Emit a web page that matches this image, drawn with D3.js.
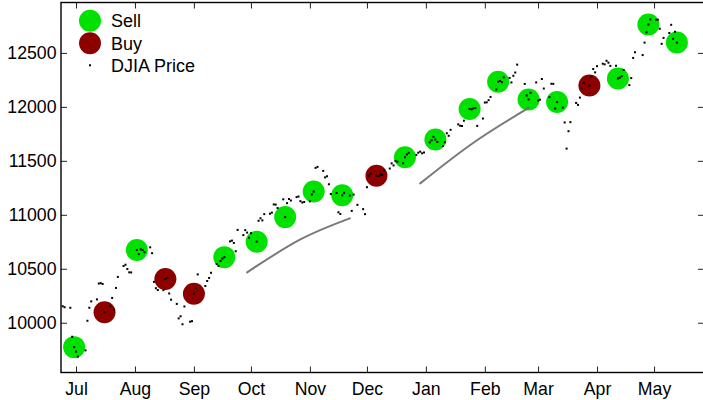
<!DOCTYPE html>
<html>
<head>
<meta charset="utf-8">
<script src="https://cdn.jsdelivr.net/npm/d3@7"></script>
<style>
  body { margin: 0; background: #fff; }
  svg { display: block; font-family: "Liberation Sans", Arial, sans-serif; }
</style>
</head>
<body>
<div id="chart"></div>
<script>
// DJIA daily closes, Jun 2010 - May 2011
const priceDates = [
  "2010-06-24","2010-06-25","2010-06-28","2010-06-29","2010-06-30","2010-07-01","2010-07-02","2010-07-06","2010-07-07","2010-07-08",
  "2010-07-09","2010-07-12","2010-07-13","2010-07-14","2010-07-15","2010-07-16","2010-07-19","2010-07-20","2010-07-21","2010-07-22",
  "2010-07-23","2010-07-26","2010-07-27","2010-07-28","2010-07-29","2010-07-30","2010-08-02","2010-08-03","2010-08-04","2010-08-05",
  "2010-08-06","2010-08-09","2010-08-10","2010-08-11","2010-08-12","2010-08-13","2010-08-16","2010-08-17","2010-08-18","2010-08-19",
  "2010-08-20","2010-08-23","2010-08-24","2010-08-25","2010-08-26","2010-08-27","2010-08-30","2010-08-31","2010-09-01","2010-09-02",
  "2010-09-03","2010-09-07","2010-09-08","2010-09-09","2010-09-10","2010-09-13","2010-09-14","2010-09-15","2010-09-16","2010-09-17",
  "2010-09-20","2010-09-21","2010-09-22","2010-09-23","2010-09-24","2010-09-27","2010-09-28","2010-09-29","2010-09-30","2010-10-01",
  "2010-10-04","2010-10-05","2010-10-06","2010-10-07","2010-10-08","2010-10-11","2010-10-12","2010-10-13","2010-10-14","2010-10-15",
  "2010-10-18","2010-10-19","2010-10-20","2010-10-21","2010-10-22","2010-10-25","2010-10-26","2010-10-27","2010-10-28","2010-10-29",
  "2010-11-01","2010-11-02","2010-11-03","2010-11-04","2010-11-05","2010-11-08","2010-11-09","2010-11-10","2010-11-11","2010-11-12",
  "2010-11-15","2010-11-16","2010-11-17","2010-11-18","2010-11-19","2010-11-22","2010-11-23","2010-11-24","2010-11-26","2010-11-29",
  "2010-11-30","2010-12-01","2010-12-02","2010-12-03","2010-12-06","2010-12-07","2010-12-08","2010-12-09","2010-12-10","2010-12-13",
  "2010-12-14","2010-12-15","2010-12-16","2010-12-17","2010-12-20","2010-12-21","2010-12-22","2010-12-23","2010-12-27","2010-12-28",
  "2010-12-29","2010-12-30","2010-12-31","2011-01-03","2011-01-04","2011-01-05","2011-01-06","2011-01-07","2011-01-10","2011-01-11",
  "2011-01-12","2011-01-13","2011-01-14","2011-01-18","2011-01-19","2011-01-20","2011-01-21","2011-01-24","2011-01-25","2011-01-26",
  "2011-01-27","2011-01-28","2011-01-31","2011-02-01","2011-02-02","2011-02-03","2011-02-04","2011-02-07","2011-02-08","2011-02-09",
  "2011-02-10","2011-02-11","2011-02-14","2011-02-15","2011-02-16","2011-02-17","2011-02-18","2011-02-22","2011-02-23","2011-02-24",
  "2011-02-25","2011-02-28","2011-03-01","2011-03-02","2011-03-03","2011-03-04","2011-03-07","2011-03-08","2011-03-09","2011-03-10",
  "2011-03-11","2011-03-14","2011-03-15","2011-03-16","2011-03-17","2011-03-18","2011-03-21","2011-03-22","2011-03-23","2011-03-24",
  "2011-03-25","2011-03-28","2011-03-29","2011-03-30","2011-03-31","2011-04-01","2011-04-04","2011-04-05","2011-04-06","2011-04-07",
  "2011-04-08","2011-04-11","2011-04-12","2011-04-13","2011-04-14","2011-04-15","2011-04-18","2011-04-19","2011-04-20","2011-04-21",
  "2011-04-25","2011-04-26","2011-04-27","2011-04-28","2011-04-29","2011-05-02","2011-05-03","2011-05-04","2011-05-05","2011-05-06",
  "2011-05-09","2011-05-10","2011-05-11","2011-05-12","2011-05-13"
];
const priceCloses = [
  10152.80,10143.81,10138.52,9870.30,9774.02,9732.53,9686.48,9743.62,10018.28,10138.99,
  10198.03,10216.27,10363.02,10366.72,10359.31,10097.90,10154.43,10229.96,10120.53,10322.30,
  10424.62,10525.43,10537.69,10497.88,10467.16,10465.94,10674.38,10636.38,10680.43,10674.98,
  10653.56,10698.75,10644.25,10378.83,10319.95,10303.15,10302.01,10405.85,10415.54,10271.21,
  10213.62,10174.41,10040.45,10060.06,9985.81,10150.65,10009.73,10014.72,10269.47,10320.10,
  10447.93,10340.69,10387.01,10415.24,10462.77,10544.13,10526.49,10572.73,10594.83,10607.85,
  10753.62,10761.03,10739.31,10662.42,10860.26,10812.04,10858.14,10835.28,10788.05,10829.68,
  10751.27,10944.72,10967.65,10948.58,11006.48,11010.34,11020.40,11096.08,11094.57,11062.78,
  11143.69,10978.62,11107.97,11146.57,11132.56,11164.05,11169.46,11126.28,11113.95,11118.49,
  11124.62,11188.72,11215.13,11434.84,11444.08,11406.84,11346.75,11357.04,11283.10,11192.58,
  11201.97,11023.50,11007.88,11181.23,11203.55,11178.58,11036.37,11187.28,11092.00,11052.49,
  11006.02,11255.78,11362.41,11382.09,11362.19,11359.16,11372.48,11370.06,11410.32,11428.56,
  11476.54,11457.47,11499.25,11491.91,11478.13,11533.16,11559.49,11573.49,11555.03,11575.54,
  11585.38,11569.71,11577.51,11670.75,11691.18,11722.89,11697.31,11674.76,11637.45,11671.88,
  11755.44,11731.90,11787.38,11837.93,11825.29,11822.80,11871.84,11980.52,11977.19,11985.44,
  11989.83,11823.70,11891.93,12040.16,12041.97,12062.26,12092.15,12161.63,12233.15,12239.89,
  12229.29,12273.26,12268.19,12226.64,12288.17,12318.14,12391.25,12212.79,12105.78,12068.50,
  12130.45,12226.34,12058.02,12066.80,12258.20,12169.88,12090.03,12214.38,12213.09,11984.61,
  12044.40,11993.16,11855.42,11613.30,11774.59,11858.52,12036.53,12018.63,12086.02,12170.56,
  12220.59,12197.88,12279.01,12350.61,12319.73,12376.72,12400.03,12393.90,12426.75,12409.49,
  12380.05,12381.11,12263.58,12270.99,12285.15,12341.83,12201.59,12266.75,12453.54,12505.99,
  12479.88,12595.37,12690.96,12763.31,12810.54,12807.36,12807.51,12723.58,12584.17,12638.74,
  12684.68,12760.36,12630.03,12695.92,12595.75
];

// trade signals (dates on the price series)
const sellDates = ["2010-06-30","2010-08-02","2010-09-17","2010-10-04","2010-10-19","2010-11-03","2010-11-18",
  "2010-12-21","2011-01-06","2011-01-24","2011-02-08","2011-02-24","2011-03-11","2011-04-12","2011-04-28","2011-05-13"];
const buyDates = ["2010-07-16","2010-08-17","2010-09-01","2010-12-06","2011-03-28"];

// gray trend strokes: start, middle, end  [date, value]
const trendA = [["2010-09-29", 10467], ["2010-10-27", 10772], ["2010-11-22", 10967]];
const trendB = [["2010-12-29", 11291], ["2011-01-26", 11668], ["2011-02-24", 11991]];

const monthTicks = ["2010-07-01","2010-08-01","2010-09-01","2010-10-01","2010-11-01","2010-12-01",
  "2011-01-01","2011-02-01","2011-03-01","2011-04-01","2011-05-01"];
const yTicks = [10000, 10500, 11000, 11500, 12000, 12500];

async function draw() {

//*************************1. Set up Measurement
  let dimensions = {
    width: 703,
    height: 400,
    left: 61,
    right: 704,
    top: 2.5,
    bottom: 372.5
  }

  const parse = d3.timeParse("%Y-%m-%d");

//*************************2. Draw Canvas
  const svg = d3.select("#chart")
    .append("svg")
    .attr("width", dimensions.width)
    .attr("height", dimensions.height)

//*************************3. Prepare Data
  const prices = priceDates.map((d, i) => ({ date: parse(d), close: priceCloses[i] }))
  const closeOf = new Map(priceDates.map((d, i) => [d, priceCloses[i]]))
  const sells = sellDates.map(d => ({ date: parse(d), close: closeOf.get(d) }))
  const buys = buyDates.map(d => ({ date: parse(d), close: closeOf.get(d) }))

  const dateAccessor = d => d.date
  const closeAccessor = d => d.close

//*************************4. Scales
  const xScale = d3.scaleTime()
    .domain([parse("2010-06-23"), parse("2011-05-27")])
    .range([dimensions.left - 0.2, dimensions.right - 0.5])

  const yScale = d3.scaleLinear()
    .domain([9539, 12967])
    .range([dimensions.bottom, dimensions.top])

//*************************5. Axes
  const fontSize = 17.7

  const xAxisBottom = svg.append("g")
    .attr("transform", `translate(0,${dimensions.bottom})`)
    .call(d3.axisBottom(xScale)
      .tickValues(monthTicks.map(parse))
      .tickFormat(d3.timeFormat("%b"))
      .tickSizeInner(-6).tickSizeOuter(0).tickPadding(9.5))
  const xAxisTop = svg.append("g")
    .attr("transform", `translate(0,${dimensions.top})`)
    .call(d3.axisTop(xScale)
      .tickValues(monthTicks.map(parse))
      .tickFormat("")
      .tickSizeInner(-6).tickSizeOuter(0))
  const yAxisLeft = svg.append("g")
    .attr("transform", `translate(${dimensions.left},0)`)
    .call(d3.axisLeft(yScale)
      .tickValues(yTicks)
      .tickFormat(d3.format("d"))
      .tickSizeInner(-6).tickSizeOuter(0).tickPadding(4.5))
  const yAxisRight = svg.append("g")
    .attr("transform", `translate(${dimensions.right},0)`)
    .call(d3.axisRight(yScale)
      .tickValues(yTicks)
      .tickFormat("")
      .tickSizeInner(-6).tickSizeOuter(0))

  svg.selectAll(".domain").remove()
  svg.selectAll(".tick line").attr("stroke", "#222").attr("stroke-width", 1)
  svg.selectAll(".tick text")
    .attr("fill", "#000")
    .style("font-family", '"Liberation Sans", Arial, sans-serif')
    .style("font-size", fontSize + "px")

  // plot box
  svg.append("rect")
    .attr("x", dimensions.left)
    .attr("y", dimensions.top)
    .attr("width", dimensions.right - dimensions.left)
    .attr("height", dimensions.bottom - dimensions.top)
    .attr("fill", "none")
    .attr("stroke", "#000")
    .attr("stroke-width", 1.4)

//*************************6. Signal circles
  const radius = 11
  svg.append("g").selectAll("circle")
    .data(sells)
    .join("circle")
    .attr("cx", d => xScale(dateAccessor(d)))
    .attr("cy", d => yScale(closeAccessor(d)))
    .attr("r", radius)
    .attr("fill", "#00e100")

  svg.append("g").selectAll("circle")
    .data(buys)
    .join("circle")
    .attr("cx", d => xScale(dateAccessor(d)))
    .attr("cy", d => yScale(closeAccessor(d)))
    .attr("r", radius)
    .attr("fill", "#8c0000")

//*************************7. Trend strokes
  const trendLine = d3.line()
    .x(d => xScale(parse(d[0])))
    .y(d => yScale(d[1]))
    .curve(d3.curveNatural)

  svg.append("g").selectAll("path")
    .data([trendA, trendB])
    .join("path")
    .attr("d", trendLine)
    .attr("fill", "none")
    .attr("stroke", "#6a6a6a")
    .attr("stroke-width", 2)
    .attr("stroke-linecap", "round")
    .attr("opacity", 0.9)

//*************************8. Price dots
  svg.append("g").selectAll("rect")
    .data(prices)
    .join("rect")
    .attr("x", d => xScale(dateAccessor(d)) - 1)
    .attr("y", d => yScale(closeAccessor(d)) - 1)
    .attr("width", 2)
    .attr("height", 2)
    .attr("fill", "#000")

//*************************9. Legend
  const legend = svg.append("g")
  const legendItems = [
    { label: "Sell", kind: "circle", color: "#00e100" },
    { label: "Buy", kind: "circle", color: "#8c0000" },
    { label: "DJIA Price", kind: "dot", color: "#000" }
  ]
  const legendY = [20.7, 43.3, 65.3]

  legendItems.forEach((item, i) => {
    if (item.kind === "circle") {
      legend.append("circle")
        .attr("cx", 90).attr("cy", legendY[i]).attr("r", radius)
        .attr("fill", item.color)
    } else {
      legend.append("rect")
        .attr("x", 89).attr("y", legendY[i] - 1).attr("width", 2).attr("height", 2)
        .attr("fill", item.color)
    }
    legend.append("text")
      .attr("x", 111)
      .attr("y", legendY[i] + 6.4)
      .style("font-size", "18px")
      .attr("fill", "#000")
      .text(item.label)
  })
}
draw()
</script>
</body>
</html>
